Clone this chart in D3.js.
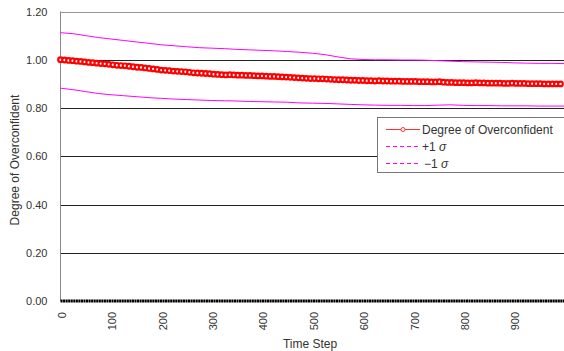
<!DOCTYPE html>
<html>
<head>
<meta charset="utf-8">
<script src="https://cdn.jsdelivr.net/npm/d3@7"></script>
<style>
  body { margin: 0; background: #fff; }
  svg text { font-family: "Liberation Sans", Arial, sans-serif; fill: #000; }
</style>
</head>
<body>
<svg id="chart" width="564" height="351"></svg>
<script>
// degree of overconfident, one reading every 8 time steps (0..992)
const degreeStep = 8;
const degree = [
  1.000, 0.999, 0.997, 0.996, 0.994, 0.993, 0.991, 0.989, 0.988, 0.986, 0.984, 0.983, 0.981,
  0.979, 0.977, 0.976, 0.975, 0.973, 0.971, 0.969, 0.968, 0.966, 0.964, 0.962, 0.960, 0.957,
  0.956, 0.955, 0.953, 0.952, 0.951, 0.950, 0.948, 0.946, 0.945, 0.944, 0.943, 0.942, 0.940,
  0.939, 0.938, 0.937, 0.938, 0.937, 0.936, 0.936, 0.935, 0.935, 0.934, 0.933, 0.933,
  0.932, 0.931, 0.931, 0.930, 0.929, 0.928, 0.927, 0.926, 0.925, 0.924, 0.923, 0.922, 0.922,
  0.921, 0.921, 0.920, 0.919, 0.918, 0.917, 0.917, 0.916, 0.915, 0.915, 0.914, 0.914,
  0.913, 0.913, 0.912, 0.913, 0.912, 0.912, 0.911, 0.911, 0.911, 0.910, 0.910, 0.910, 0.910,
  0.909, 0.909, 0.909, 0.908, 0.908, 0.909, 0.907, 0.906, 0.906, 0.905, 0.905, 0.905,
  0.904, 0.904, 0.905, 0.904, 0.904, 0.903, 0.903, 0.903, 0.903, 0.902, 0.902, 0.903, 0.902,
  0.902, 0.902, 0.901, 0.901, 0.901, 0.901, 0.900, 0.900, 0.900, 0.900, 0.900
];

// +1 sigma / -1 sigma, one reading every 25 time steps (0..1000)
const sigmaStep = 25;
const plusSigma = [
  1.112, 1.108, 1.100, 1.092, 1.086, 1.080, 1.074, 1.068, 1.062, 1.058,
  1.054, 1.050, 1.048, 1.046, 1.043, 1.041, 1.039, 1.037, 1.034, 1.031,
  1.027, 1.021, 1.012, 1.004, 1.001, 1.000, 1.000, 0.999, 0.999, 0.998,
  0.996, 0.994, 0.992, 0.991, 0.990, 0.989, 0.987, 0.986, 0.985, 0.985, 0.984
];
const minusSigma = [
  0.882, 0.876, 0.868, 0.860, 0.855, 0.851, 0.847, 0.843, 0.840, 0.837,
  0.835, 0.833, 0.831, 0.830, 0.829, 0.827, 0.826, 0.825, 0.824, 0.821,
  0.820, 0.819, 0.817, 0.815, 0.813, 0.812, 0.811, 0.811, 0.810, 0.810,
  0.812, 0.813, 0.811, 0.810, 0.810, 0.809, 0.809, 0.809, 0.808, 0.808, 0.808
];

const xTicks = [0, 100, 200, 300, 400, 500, 600, 700, 800, 900];
const yTicks = [0, 0.2, 0.4, 0.6, 0.8, 1.0, 1.2];

const svg = d3.select("#chart");
const plotLeft = 60.5, plotRight = 564.5, plotTop = 11.5, plotBottom = 301;

const x = d3.scaleLinear().domain([0, 1000]).range([plotLeft, plotRight]);
const y = d3.scaleLinear().domain([0, 1.2]).range([plotBottom, plotTop]);

// gridlines
svg.append("g")
  .selectAll("line")
  .data(yTicks.filter(d => d > 0))
  .join("line")
  .attr("x1", plotLeft).attr("x2", plotRight)
  .attr("y1", d => Math.round(y(d)) + 0.5).attr("y2", d => Math.round(y(d)) + 0.5)
  .attr("stroke", d => d === 1.2 ? "#999" : "#222")
  .attr("stroke-width", 1);

// left axis line
svg.append("line")
  .attr("x1", plotLeft).attr("x2", plotLeft)
  .attr("y1", plotTop).attr("y2", plotBottom)
  .attr("stroke", "#888");

// y axis
const yAxis = svg.append("g")
  .attr("transform", `translate(${plotLeft},0)`)
  .call(d3.axisLeft(y).tickValues(yTicks).tickFormat(d3.format(".2f")).tickSize(0).tickPadding(13));
yAxis.select(".domain").remove();
yAxis.selectAll("text").style("font-size", "11px").style("fill", "#333");

// x axis labels, rotated
const xAxis = svg.append("g")
  .attr("transform", `translate(0,${plotBottom})`)
  .call(d3.axisBottom(x).tickValues(xTicks).tickSize(0));
xAxis.select(".domain").remove();
xAxis.selectAll("text")
  .style("font-size", "11px")
  .style("fill", "#333")
  .attr("text-anchor", "end")
  .attr("dy", "0.35em")
  .attr("transform", "translate(1,11) rotate(-90)")
  .attr("y", 0).attr("x", 0);

// zero line with dense category ticks
svg.append("line")
  .attr("x1", plotLeft).attr("x2", plotRight)
  .attr("y1", plotBottom).attr("y2", plotBottom)
  .attr("stroke", "#000")
  .attr("stroke-width", 3)
  .attr("stroke-dasharray", "2.1,0.45");

// sigma lines
const sigmaLine = d3.line()
  .x((d, i) => x(i * sigmaStep))
  .y(d => y(d));
[plusSigma, minusSigma].forEach(series => {
  svg.append("path")
    .datum(series)
    .attr("d", sigmaLine)
    .attr("fill", "none")
    .attr("stroke", "#ff00ff")
    .attr("stroke-width", 1);
});

// degree of overconfident
const degreeLine = d3.line()
  .x((d, i) => x(i * degreeStep))
  .y(d => y(d));
svg.append("path")
  .datum(degree)
  .attr("d", degreeLine)
  .attr("fill", "none")
  .attr("stroke", "#ff0000")
  .attr("stroke-width", 1.5);
svg.append("g")
  .selectAll("circle")
  .data(degree)
  .join("circle")
  .attr("cx", (d, i) => x(i * degreeStep))
  .attr("cy", d => y(d))
  .attr("r", 2.3)
  .attr("fill", "#fff")
  .attr("stroke", "#ff0000")
  .attr("stroke-width", 2.2);

// axis titles
svg.append("text")
  .attr("x", 310).attr("y", 348)
  .attr("text-anchor", "middle")
  .style("font-size", "12px")
  .style("fill", "#333")
  .text("Time Step");
svg.append("text")
  .attr("transform", "translate(19,160) rotate(-90)")
  .attr("text-anchor", "middle")
  .style("font-size", "12px")
  .style("fill", "#333")
  .text("Degree of Overconfident");

// legend
const legend = svg.append("g");
legend.append("rect")
  .attr("x", 377.5).attr("y", 117.5)
  .attr("width", 200).attr("height", 55)
  .attr("fill", "#fff")
  .attr("stroke", "#777");

const legendItems = [
  { label: "Degree of Overconfident", sigma: null, color: "#ff3030", dash: "none", marker: true },
  { label: "+1 ", sigma: "σ", color: "#ff00ff", dash: "4,3", marker: false },
  { label: "\u22121 ", sigma: "σ", color: "#ff00ff", dash: "4,3", marker: false }
];
legendItems.forEach((item, i) => {
  const ly = 129.5 + i * 17;
  legend.append("line")
    .attr("x1", 386).attr("x2", 420)
    .attr("y1", ly).attr("y2", ly)
    .style("stroke", item.color)
    .style("stroke-width", 1)
    .style("stroke-dasharray", item.dash);
  if (item.marker) {
    legend.append("circle")
      .attr("cx", 403).attr("cy", ly).attr("r", 2)
      .attr("fill", "#fff").attr("stroke", item.color).attr("stroke-width", 1);
  }
  const t = legend.append("text")
    .attr("x", i === 2 ? 424 : 422).attr("y", ly + 4)
    .style("font-size", "12px")
    .style("fill", "#333");
  t.append("tspan").text(item.label);
  if (item.sigma) t.append("tspan").style("font-style", "italic").text(item.sigma);
});
</script>
</body>
</html>
